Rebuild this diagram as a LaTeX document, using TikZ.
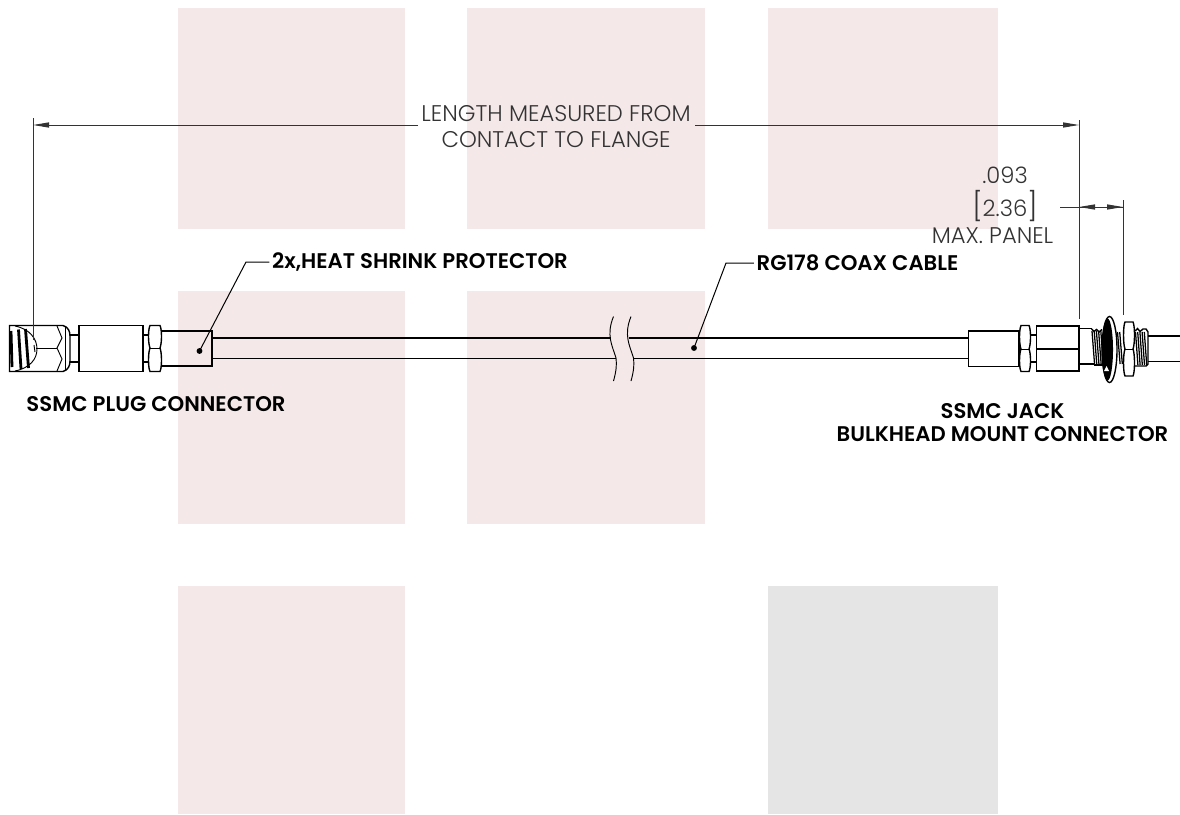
\documentclass[tikz,border=0pt]{standalone}
\usepackage{fontspec}
\usetikzlibrary{arrows.meta}
\newfontfamily\gothic{Poppins}
\newfontfamily\gothicb{Poppins SemiBold}
\newfontfamily\gothicl{Poppins Light}
\definecolor{pinkblock}{HTML}{F4E8E8}
\definecolor{grayblock}{HTML}{E5E5E5}
\definecolor{dimtext}{HTML}{333333}
\tikzset{
  block/.style={fill=pinkblock,draw=none},
  part/.style={draw=black,line width=1.05pt,fill=none},
  whitepart/.style={draw=black,line width=1.05pt,fill=white},
  thin part/.style={draw=black,line width=0.7pt},
  threadline/.style={draw=black,line width=0.95pt},
  dimline/.style={draw=black!80,line width=0.75pt},
  dimtip/.style={-{Stealth[length=12pt,width=3.8pt,inset=0pt]}},
  leader/.style={draw=black,line width=0.75pt},
  dotmark/.style={circle,fill=black,inner sep=0pt,minimum size=4.4pt},
  boldlabel/.style={font=\gothicb\fontsize{15.9}{15.9}\selectfont,text=black,inner sep=0pt,align=center},
  dimlabel/.style={font=\gothicl\fontsize{17}{19}\selectfont,text=dimtext,inner sep=0pt,align=center},
}
\newcommand{\hexlobes}[5]{% x-left x-right top mid bottom
  \draw[part] (#1+2,#3) -- (#2-2,#3) .. controls (#2,#3+4) and (#2,#4-5) .. (#2-2,#4) .. controls (#2,#4+5) and (#2,#5-4) .. (#2-2,#5) -- (#1+2,#5) .. controls (#1,#5-4) and (#1,#4+5) .. (#1+2,#4) .. controls (#1,#4-5) and (#1,#3+4) .. (#1+2,#3) -- cycle;
  \draw[thin part] (#1+2,#4) -- (#2-2,#4);
}
\begin{document}
\begin{tikzpicture}[x=0.75pt,y=-0.75pt]
\useasboundingbox (0,0) rectangle (1180,814);
% background blocks
\fill[block] (178,8) rectangle (405,229);
\fill[block] (467,8) rectangle (705,229);
\fill[block] (768,8) rectangle (998,229);
\fill[block] (178,291) rectangle (405,524);
\fill[block] (467,291) rectangle (705,524);
\fill[block] (178,586) rectangle (405,814);
\fill[grayblock] (768,586) rectangle (998,814);

% cable
\draw[part] (212,338) -- (610.5,338) (628.5,338) -- (968,338);
\draw[part] (212,358.5) -- (616,358.5) (634,358.5) -- (968,358.5);
\draw[thin part] (613.5,316.5) .. controls (606,335) and (612,345) .. (616,358) .. controls (617,365) and (616,372) .. (613.5,381);
\draw[thin part] (631,316.5) .. controls (623.5,335) and (629.5,345) .. (633.5,358) .. controls (634.5,365) and (633.5,372) .. (631,381);

% plug connector
\draw[part] (9.5,325.5) -- (63,325.5) .. controls (68,327) and (70,331) .. (70,336) -- (70,361) .. controls (70,366) and (68,370) .. (63,371.5) -- (9.5,371.5) -- cycle;
\draw[thin part] (65,327) -- (65,370);
\draw[thin part] (15,326) .. controls (30,329) and (37,339) .. (37,349) .. controls (37,359) and (30,368) .. (15,371);
\draw[thin part] (57,326) -- (62,338) -- (57,348) -- (62,359) -- (57,371);
\draw[thin part] (36,348) -- (57,348);
\draw[line width=2.1pt] (11,331) -- (12,367);
\draw[line width=2.1pt] (18.5,329.5) -- (21,369);
\draw[line width=2.1pt] (25.5,329) -- (28.5,368);
\draw[thin part] (34,345) -- (35,352);
\draw[part] (70,335) -- (79,335) (70,362) -- (79,362);
\draw[part] (79,325.5) rectangle (143,371.5);
\draw[part] (143,335) -- (148,335) (143,362) -- (148,362);
\hexlobes{148}{162}{325.5}{348}{371.5}
\draw[part] (162,331) -- (212,331) -- (212,366) -- (162,366);

% jack connector
\draw[part] (968.5,331) rectangle (1019,366.5);
\hexlobes{1019}{1031}{325.5}{349}{371.5}
\draw[part] (1031,335) -- (1036.5,335) (1031,362) -- (1036.5,362);
\draw[part] (1036.5,326) rectangle (1079,371);
\draw[part] (1036.5,349) -- (1079,349);
\draw[part] (1079,328.5) -- (1092,328.5) (1079,364) -- (1094,364);
% threads left of the washer
\foreach \tx in {1092,1094.2,...,1101}{
  \draw[threadline] (\tx,331) -- (\tx+2.6,365);
}
\draw[part] (1091.5,329) -- (1094,331.5) -- (1096.5,329.5) -- (1099,332) -- (1102,329.5);
\draw[part] (1094,365) -- (1103,365);
% washer
\draw[whitepart] (1109.5,349.5) ellipse [x radius=7.5,y radius=33];
\fill[black] (1107.5,349.5) ellipse [x radius=5.5,y radius=31];
\fill[white] (1106.5,366) -- (1104,371) -- (1109,371) -- cycle;
% threads between washer and nut
\foreach \tx in {1117.5,1119.7}{
  \draw[threadline] (\tx,332) -- (\tx+2.6,364);
}
% nut
\hexlobes{1123}{1135}{322}{349}{376}
% threads right of the nut
\foreach \tx in {1135.5,1137.7,...,1146}{
  \draw[threadline] (\tx,332) -- (\tx+2.4,365);
}
\draw[part] (1135,331) -- (1137.5,328.5) -- (1140,331.5) -- (1143,329) -- (1146,329) -- (1148,332) -- (1148,364) -- (1146,366) -- (1135,366);
\draw[part] (1148,336) -- (1180,336) (1148,361.5) -- (1180,361.5);

% texts
\node[dimlabel] (lenlabel) at (556,126.5) {LENGTH MEASURED FROM\\[1pt]CONTACT TO FLANGE};
\node[dimlabel] (panel) at (1005,175) {.093};
\node[dimlabel] (panelb) at (1005,206) {\fontsize{21}{21}\selectfont[\fontsize{17}{19}\selectfont 2.36\fontsize{21}{21}\selectfont]};
\node[dimlabel] (panelc) at (992.5,236) {MAX. PANEL};
\node[boldlabel] (hs) at (420,262) {2x,HEAT SHRINK PROTECTOR};
\node[boldlabel] (rg) at (857.5,263) {RG178 COAX CABLE};
\node[boldlabel] (plug) at (156,404) {SSMC PLUG CONNECTOR};
\node[boldlabel] (jack) at (1002.5,422.5) {SSMC JACK\\[1pt]BULKHEAD MOUNT CONNECTOR};

% dimension lines
\coordinate (extLtop) at (33,118);
\coordinate (extLbot) at (33,340);
\coordinate (extRtop) at (1079,120);
\coordinate (extRbot) at (1079,319);
\coordinate (extPtop) at (1123,200);
\coordinate (extPbot) at (1123,315);
\coordinate (dimL) at (33,125);
\coordinate (dimR) at (1079,125);
\coordinate (sTail) at (1060,207);
\coordinate (sA) at (1079,207);
\coordinate (sB) at (1123,207);
\coordinate (sMidA) at (1096,207);
\coordinate (sMidB) at (1107,207);
\draw[dimline] (extLtop) -- (extLbot);
\draw[dimline] (extRtop) -- (extRbot);
\draw[dimline] (extPtop) -- (extPbot);
\draw[dimline,dimtip] (418,125) -- (dimL);
\draw[dimline,dimtip] (695,125) -- (dimR);
\draw[dimline] (sTail) -- (sB);
\draw[dimline,dimtip] (sMidA) -- (sA);
\draw[dimline,dimtip] (sMidB) -- (sB);

% leaders
\node[dotmark] (dotA) at (199.5,351) {};
\node[dotmark] (dotB) at (694,348) {};
\coordinate (kneeA) at (246,262);
\coordinate (kneeB) at (726,263);
\draw[leader,shorten >=2pt] (dotA.center) -- (kneeA) -- (hs.west);
\draw[leader,shorten >=2pt] (dotB.center) -- (kneeB) -- (rg.west);
\end{tikzpicture}
\end{document}
